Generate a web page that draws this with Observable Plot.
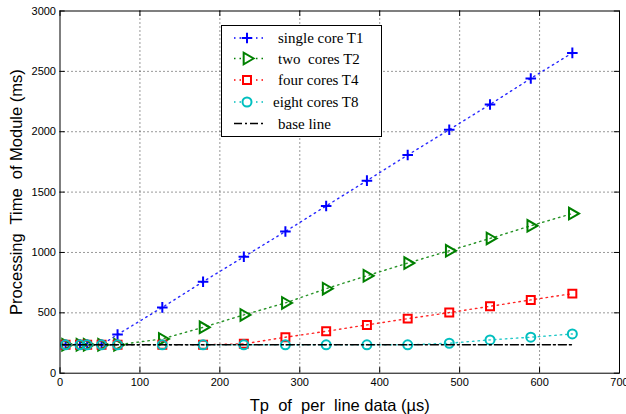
<!DOCTYPE html>
<html><head><meta charset="utf-8">
<script src="https://cdn.jsdelivr.net/npm/d3@7"></script>
<script src="https://cdn.jsdelivr.net/npm/@observablehq/plot@0.6"></script>
<style>
body{margin:0;background:#fff;}
#wrap{position:relative;width:626px;height:414px;}
svg text{white-space:pre;}
#legend{position:absolute;left:221px;top:25px;}
g[aria-label="x-axis label"] text, g[aria-label="y-axis label"] text, g[aria-label="x-axis label"], g[aria-label="y-axis label"]{font-size:16.5px;}
</style></head><body><div id="wrap"></div>
<script>
// Data
const tp = [7, 25, 34, 52, 72, 128, 179, 230, 282, 333, 384, 435, 487, 538, 589, 641];
const t1 = [235, 235, 235, 235, 320, 545, 758, 964, 1174, 1385, 1595, 1807, 2017, 2226, 2441, 2653];
const t2 = [235, 235, 235, 235, 235, 284, 380, 483, 582, 700, 807, 912, 1014, 1116, 1221, 1322];
const t4 = [235, 235, 235, 235, 235, 235, 235, 243, 298, 347, 400, 452, 502, 554, 607, 659];
const t8 = [235, 235, 235, 235, 235, 235, 235, 235, 235, 235, 235, 235, 248, 276, 298, 325];
const baseX = [3, 640];
const baseY = [235, 235];
const seriesNames = ["single core T1", "two  cores T2", "four cores T4", "eight cores T8", "base line"];
const xTicks = [0, 100, 200, 300, 400, 500, 600, 700];
const yTicks = [0, 500, 1000, 1500, 2000, 2500, 3000];

const colors = ["#0000ff", "#008000", "#ff0000", "#00bfbf", "#000000"];
const symbols = ["plus", "triangle2", "square", "circle"];
const rs = [3.5, 5.5, 4.5, 4.5];
const rotates = [0, 90, 0, 0];
const series = [t1, t2, t4, t8];

const dotted = "1.5,4";
const marks = [
  Plot.gridX(xTicks.slice(1, -1), {stroke: "#333", strokeOpacity: 1, strokeDasharray: "1,3"}),
  Plot.gridY(yTicks.slice(1, -1), {stroke: "#333", strokeOpacity: 1, strokeDasharray: "1,3"}),
];
series.forEach((s, k) => {
  const data = tp.map((x, i) => ({x, y: s[i]}));
  marks.push(Plot.line(data, {x: "x", y: "y", stroke: colors[k], strokeWidth: 1.4, strokeOpacity: 0.85, strokeDasharray: dotted}));
  marks.push(Plot.dot(data, {x: "x", y: "y", symbol: symbols[k], r: rs[k], rotate: rotates[k], stroke: colors[k], fill: "none", strokeWidth: 2}));
});
marks.push(Plot.line(baseX.map((x, i) => ({x, y: baseY[i]})), {x: "x", y: "y", stroke: "#000", strokeWidth: 1.5, strokeDasharray: "8,3,2,3"}));
// inward ticks on all four sides
marks.push(Plot.ruleX(xTicks, {x: d => d, y1: 0, y2: 45, stroke: "#000"}));
marks.push(Plot.ruleX(xTicks, {x: d => d, y1: 3000, y2: 2955, stroke: "#000"}));
marks.push(Plot.ruleY(yTicks, {y: d => d, x1: 0, x2: 6.5, stroke: "#000"}));
marks.push(Plot.ruleY(yTicks, {y: d => d, x1: 700, x2: 693.5, stroke: "#000"}));
marks.push(Plot.frame({stroke: "#000"}));
marks.push(Plot.axisX({ticks: xTicks, tickSize: 0, tickPadding: 5, tickFormat: d => String(d),
  label: "Tp  of  per  line data (µs)", labelAnchor: "center", labelOffset: 38, labelArrow: "none"}));
marks.push(Plot.axisY({ticks: yTicks, tickSize: 0, tickPadding: 4, tickFormat: d => String(d),
  label: "Processing  Time  of Module (ms)", labelAnchor: "center", labelOffset: 50, labelArrow: "none"}));

const chart = Plot.plot({
  width: 626, height: 414,
  marginLeft: 59.5, marginRight: 7, marginTop: 10.5, marginBottom: 41.3,
  x: {domain: [0, 700], labelArrow: "none"},
  y: {domain: [0, 3000], labelArrow: "none"},
  style: {fontFamily: "'Liberation Sans', Arial, sans-serif", fontSize: "11px", color: "#000", background: "#fff"},
  marks
});
document.getElementById("wrap").appendChild(chart);

// Legend overlay
const leg = d3.create("svg").attr("id", "legend").attr("width", 162).attr("height", 113);
leg.append("rect").attr("x", 0.5).attr("y", 0.5).attr("width", 160).attr("height", 111)
  .attr("fill", "#fff").attr("stroke", "#000");
const rowY = [13, 33.5, 55, 77, 98.5];
const textX = [57, 57, 57, 52, 57];
const d3sym = {plus: d3.symbolPlus, triangle2: d3.symbolTriangle2, square: d3.symbolSquare, circle: d3.symbolCircle};
seriesNames.forEach((name, k) => {
  const y = rowY[k];
  leg.append("line").attr("x1", 13).attr("x2", 44).attr("y1", y).attr("y2", y)
    .attr("stroke", colors[k]).attr("stroke-width", k === 4 ? 1.5 : 1.4)
    .attr("stroke-dasharray", k === 4 ? "8,3,2,3" : dotted);
  if (k < 4) {
    leg.append("path").attr("d", d3.symbol(d3sym[symbols[k]], Math.PI * rs[k] * rs[k])())
      .attr("transform", `translate(26,${y}) rotate(${rotates[k]})`)
      .attr("fill", "#fff").attr("stroke", colors[k]).attr("stroke-width", 2);
  }
  leg.append("text").attr("x", textX[k]).attr("y", y).attr("dy", "0.35em")
    .attr("font-family", "'Liberation Serif', 'Times New Roman', serif").attr("font-size", 15)
    .text(name);
});
document.getElementById("wrap").appendChild(leg.node());
</script></body></html>
